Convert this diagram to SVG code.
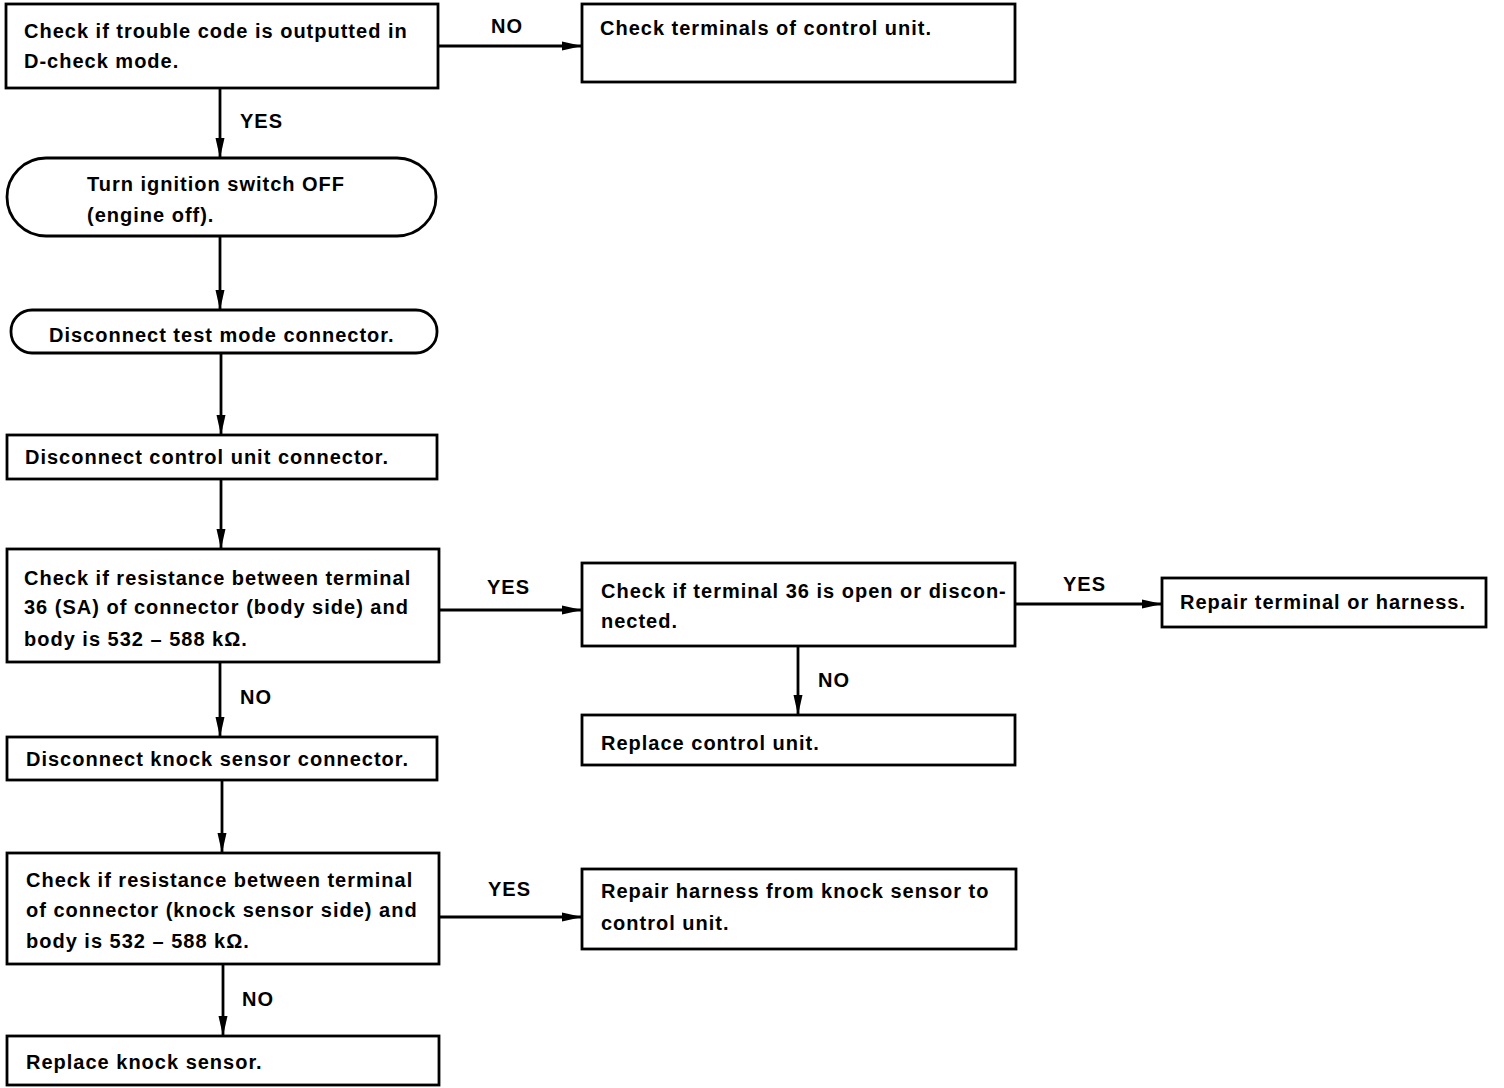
<svg xmlns="http://www.w3.org/2000/svg" width="1504" height="1088" viewBox="0 0 1504 1088">
<defs>
<marker id="arr" markerUnits="userSpaceOnUse" markerWidth="22" markerHeight="12" refX="20" refY="6" orient="auto">
<path d="M0,1.5 L20,6 L0,10.5 Z" fill="#000"/>
</marker>
<style>
rect.box, rect.term { fill:#fff; stroke:#000; stroke-width:2.8; }
text { font-family:"Liberation Sans", Arial, sans-serif; font-size:20px; font-weight:bold; letter-spacing:1px; fill:#000; }
.conn line { stroke:#000; stroke-width:2.8; marker-end:url(#arr); }
</style>
</defs>
<rect width="1504" height="1088" fill="#fff"/>

<g id="connectors" class="conn">
<line x1="438" y1="46" x2="582" y2="46"/>
<line x1="220" y1="88" x2="220" y2="158"/>
<line x1="220" y1="236" x2="220" y2="310"/>
<line x1="221" y1="353" x2="221" y2="435"/>
<line x1="221" y1="479" x2="221" y2="549"/>
<line x1="439" y1="610" x2="582" y2="610"/>
<line x1="1015" y1="604" x2="1162" y2="604"/>
<line x1="798" y1="646" x2="798" y2="715"/>
<line x1="220" y1="662" x2="220" y2="737"/>
<line x1="222" y1="780" x2="222" y2="853"/>
<line x1="439" y1="917" x2="582" y2="917"/>
<line x1="223" y1="964" x2="223" y2="1036"/>
</g>
<g id="labels">
<text x="491" y="33">NO</text>
<text x="240" y="128">YES</text>
<text x="487" y="594">YES</text>
<text x="1063" y="591">YES</text>
<text x="818" y="687">NO</text>
<text x="240" y="704">NO</text>
<text x="488" y="896">YES</text>
<text x="242" y="1006">NO</text>
</g>

<g id="n1"><rect class="box" x="6" y="4" width="432" height="84"/>
<text x="24" y="38">Check if trouble code is outputted in</text>
<text x="24" y="68">D-check mode.</text></g>

<g id="n2"><rect class="box" x="582" y="4" width="433" height="78"/>
<text x="600" y="35">Check terminals of control unit.</text></g>

<g id="n3"><rect class="term" x="7" y="158" width="429" height="78" rx="39" ry="39"/>
<text x="87" y="191">Turn ignition switch OFF</text>
<text x="87" y="222">(engine off).</text></g>

<g id="n4"><rect class="term" x="11" y="310" width="426" height="43" rx="21" ry="21"/>
<text x="49" y="342">Disconnect test mode connector.</text></g>

<g id="n5"><rect class="box" x="7" y="435" width="430" height="44"/>
<text x="25" y="464">Disconnect control unit connector.</text></g>

<g id="n6"><rect class="box" x="7" y="549" width="432" height="113"/>
<text x="24" y="585">Check if resistance between terminal</text>
<text x="24" y="614">36 (SA) of connector (body side) and</text>
<text x="24" y="646">body is 532 – 588 kΩ.</text></g>

<g id="n7"><rect class="box" x="582" y="563" width="433" height="83"/>
<text x="601" y="598">Check if terminal 36 is open or discon-</text>
<text x="601" y="628">nected.</text></g>

<g id="n8"><rect class="box" x="1162" y="578" width="324" height="49"/>
<text x="1180" y="609">Repair terminal or harness.</text></g>

<g id="n9"><rect class="box" x="582" y="715" width="433" height="50"/>
<text x="601" y="750">Replace control unit.</text></g>

<g id="n10"><rect class="box" x="7" y="737" width="430" height="43"/>
<text x="26" y="766">Disconnect knock sensor connector.</text></g>

<g id="n11"><rect class="box" x="7" y="853" width="432" height="111"/>
<text x="26" y="887">Check if resistance between terminal</text>
<text x="26" y="917">of connector (knock sensor side) and</text>
<text x="26" y="948">body is 532 – 588 kΩ.</text></g>

<g id="n12"><rect class="box" x="582" y="869" width="434" height="80"/>
<text x="601" y="898">Repair harness from knock sensor to</text>
<text x="601" y="930">control unit.</text></g>

<g id="n13"><rect class="box" x="7" y="1036" width="432" height="49"/>
<text x="26" y="1069">Replace knock sensor.</text></g>
</svg>
